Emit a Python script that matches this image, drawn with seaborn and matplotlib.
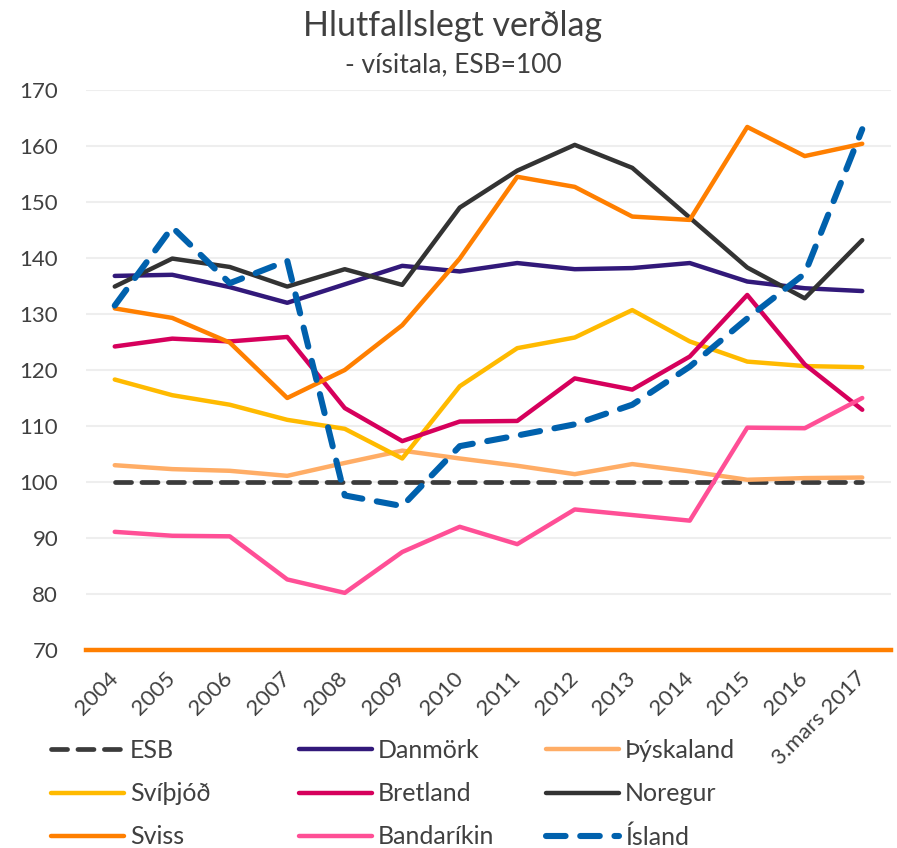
import numpy as np
import pandas as pd
import matplotlib
matplotlib.use("Agg")
import matplotlib.pyplot as plt
import seaborn as sns

years = ["2004", "2005", "2006", "2007", "2008", "2009", "2010", "2011",
         "2012", "2013", "2014", "2015", "2016", "3.mars 2017"]

esb = [100] * 14
danmork = [136.8, 137.0, 134.8, 132.0, 135.3, 138.6, 137.6, 139.1, 138.0, 138.2, 139.1, 135.8, 134.6, 134.1]
thyskaland = [103.0, 102.3, 102.0, 101.1, 103.4, 105.6, 104.2, 102.9, 101.4, 103.2, 101.9, 100.4, 100.7, 100.8]
svithjod = [118.3, 115.5, 113.8, 111.1, 109.5, 104.2, 117.1, 123.9, 125.8, 130.7, 125.1, 121.5, 120.7, 120.5]
bretland = [124.2, 125.6, 125.1, 125.9, 113.2, 107.3, 110.8, 110.9, 118.5, 116.5, 122.4, 133.4, 121.0, 112.9]
noregur = [134.9, 139.9, 138.4, 134.9, 138.0, 135.2, 149.0, 155.6, 160.2, 156.1, 147.2, 138.3, 132.8, 143.2]
sviss = [131.0, 129.3, 124.9, 115.0, 120.0, 128.0, 139.9, 154.5, 152.7, 147.4, 146.8, 163.4, 158.2, 160.4]
bandarikin = [91.1, 90.4, 90.3, 82.6, 80.2, 87.5, 92.0, 88.9, 95.1, 94.1, 93.1, 109.7, 109.6, 115.0]
island = [131.5, 145.5, 135.5, 139.5, 97.6, 95.7, 106.4, 108.3, 110.3, 113.8, 120.6, 129.2, 137.2, 163.0]

names = ["ESB", "Danmörk", "Þýskaland", "Svíþjóð", "Bretland", "Noregur",
         "Sviss", "Bandaríkin", "Ísland"]
series = [esb, danmork, thyskaland, svithjod, bretland, noregur, sviss, bandarikin, island]
colors = ["#3b3b3b", "#32197a", "#ffad66", "#ffba00", "#d6005c", "#333333",
          "#ff7f00", "#ff4f96", "#0061ad"]

sns.set_style("white")
plt.rcParams["font.family"] = ["Lato", "DejaVu Sans"]

fig = plt.figure(figsize=(8.97, 8.48), dpi=100)
ax = fig.add_axes([86 / 897, 1 - 650 / 848, 805 / 897, 560 / 848])

pos = np.arange(len(years))
for name, vals, col in zip(names, series, colors):
    df = pd.DataFrame({"x": pos, "y": vals})
    if name == "ESB":
        sns.lineplot(data=df, x="x", y="y", ax=ax, color=col, lw=3.4, label=name, zorder=3)
        ax.lines[-1].set_dashes([3.4, 2.2])
        ax.lines[-1].set_dash_capstyle("round")
    elif name == "Ísland":
        sns.lineplot(data=df, x="x", y="y", ax=ax, color=col, lw=4.4, label=name, zorder=5)
        ax.lines[-1].set_dashes([3.2, 2.4])
        ax.lines[-1].set_dash_capstyle("round")
    else:
        sns.lineplot(data=df, x="x", y="y", ax=ax, color=col, lw=3.2, label=name, zorder=4)
        ax.lines[-1].set_solid_capstyle("round")

ax.set_xlim(-0.5, len(years) - 0.5)
ax.set_ylim(70, 170)
ax.set_yticks(range(70, 171, 10))
ax.set_xticks(pos)
ax.set_xticklabels(years, rotation=45, ha="right", va="center", rotation_mode="anchor")
ax.tick_params(axis="x", length=0, pad=18, labelsize=16, labelcolor="#404040")
ax.tick_params(axis="y", length=0, pad=20, labelsize=16, labelcolor="#404040")
ax.set_xlabel("")
ax.set_ylabel("")
ax.grid(axis="y", color="#eeeeee", lw=1.5)
ax.set_axisbelow(True)
for s in ["top", "right", "left"]:
    ax.spines[s].set_visible(False)
ax.spines["bottom"].set_color("#ff7f00")
ax.spines["bottom"].set_linewidth(3.2)
ax.spines["bottom"].set_zorder(6)

fig.text(0.505, 0.969, "Hlutfallslegt verðlag", ha="center", va="center",
         fontsize=24.5, color="#404040")
fig.text(0.505, 0.923, "- vísitala, ESB=100", ha="center", va="center",
         fontsize=19, color="#404040")

handles, labels = ax.get_legend_handles_labels()
ax.get_legend().remove()
hmap = dict(zip(labels, handles))
cols = [["ESB", "Svíþjóð", "Sviss"], ["Danmörk", "Bretland", "Bandaríkin"],
        ["Þýskaland", "Noregur", "Ísland"]]
xs = [41 / 897, 289 / 897, 536 / 897]
for x0, col_names in zip(xs, cols):
    fig.legend([hmap[n] for n in col_names], col_names, loc="upper left",
               bbox_to_anchor=(x0, 1 - 729 / 848), frameon=False, fontsize=18,
               handlelength=2.9, handletextpad=0.25, labelspacing=0.81,
               labelcolor="#404040", borderaxespad=0)

fig.savefig("out.png", dpi=100)
